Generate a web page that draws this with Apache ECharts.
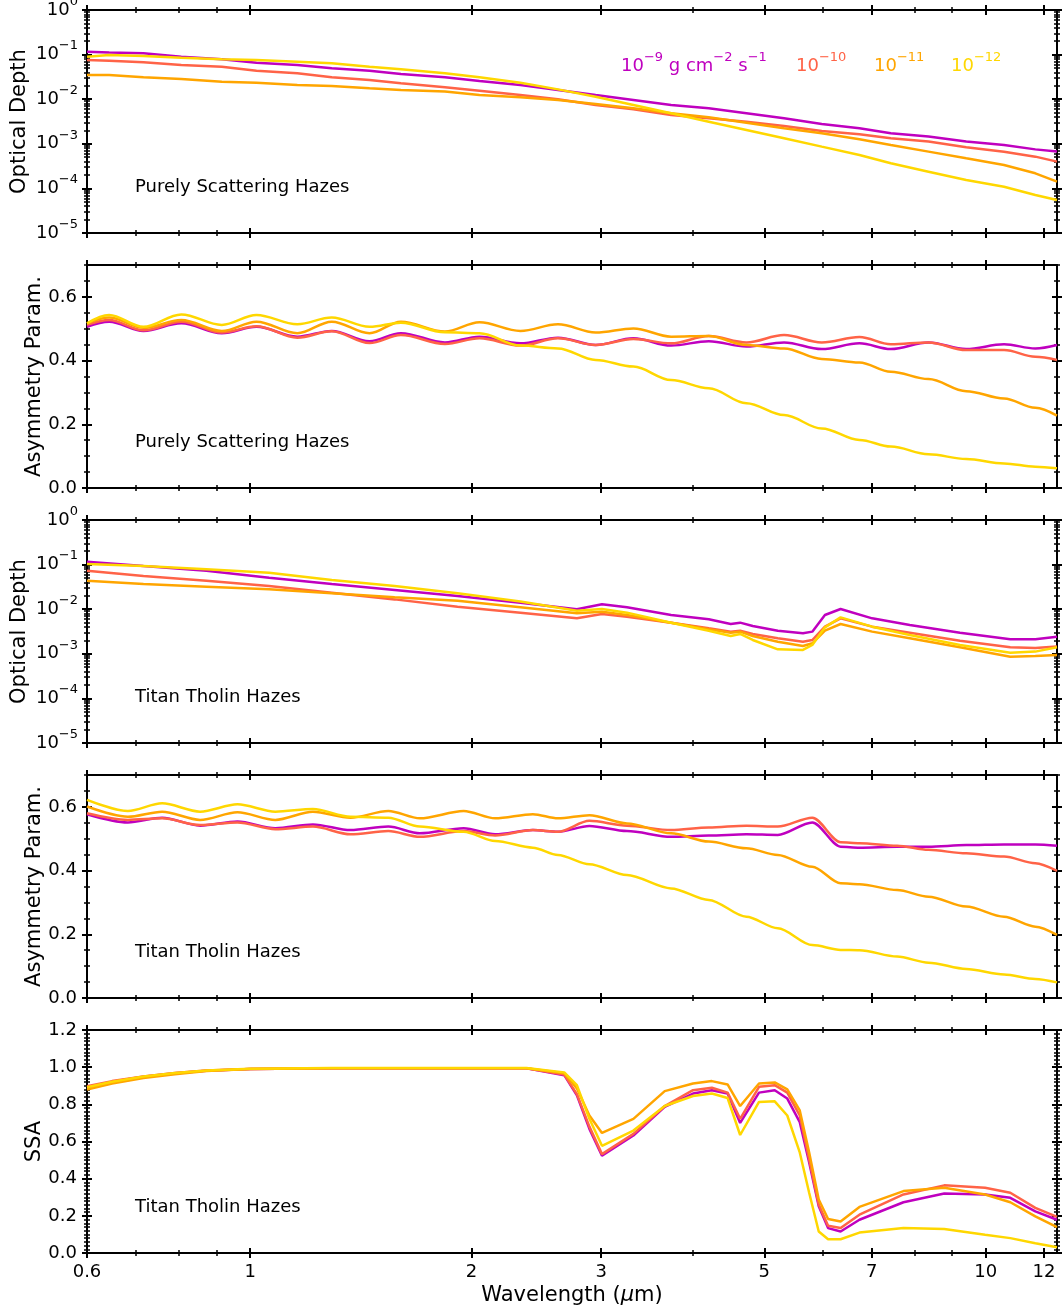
<!DOCTYPE html>
<html><head><meta charset="utf-8">
<script src="https://cdn.jsdelivr.net/npm/echarts@6/dist/echarts.min.js"></script>
<style>html,body{margin:0;padding:0;background:#fff}#chart{width:1063px;height:1310px}</style>
</head><body><div id="chart"></div>
<script>
// ---------- DATA ----------
const seriesLabels = ['10\u207b\u2079 g cm\u207b\u00b2 s\u207b\u00b9', '10\u207b\u00b9\u2070', '10\u207b\u00b9\u00b9', '10\u207b\u00b9\u00b2'];
const xTickLabels = [0.6, 1, 2, 3, 5, 7, 10, 12];
const xMinorTicks = [0.7, 0.8, 0.9, 4, 6, 8, 9];

// Panel 1 & 2 : purely scattering hazes
const wlScatter = [0.600,0.643,0.716,0.806,0.915,1.020,1.159,1.291,1.453,1.603,1.840,2.050,2.330,2.621,2.949,3.319,3.735,4.202,4.728,5.319,5.985,6.735,7.430,8.360,9.408,10.59,11.68,12.5];
const odScat9  = [0.116,0.112,0.107,0.0899,0.0783,0.0659,0.0585,0.0492,0.0437,0.0367,0.0309,0.0256,0.0208,0.0161,0.0124,0.00959,0.00741,0.00624,0.00482,0.00372,0.00278,0.00222,0.00172,0.00145,0.00112,0.00094,0.00075,0.00067];
const odScat10 = [0.0757,0.0731,0.0671,0.0585,0.0536,0.0437,0.0380,0.0309,0.0269,0.0227,0.0185,0.0155,0.0124,0.00993,0.00741,0.00593,0.00443,0.00372,0.00313,0.00251,0.00194,0.00163,0.00133,0.00112,0.000834,0.000667,0.000515,0.000398];
const odScat11 = [0.0349,0.0349,0.0309,0.0284,0.0247,0.0235,0.0208,0.0198,0.0175,0.0161,0.0148,0.0124,0.0110,0.00959,0.00780,0.00624,0.00482,0.00392,0.00298,0.00222,0.00172,0.00126,0.00094,0.000667,0.000472,0.000335,0.000218,0.000142];
const odScat12 = [0.0899,0.0980,0.0930,0.0853,0.0783,0.0757,0.0695,0.0637,0.0536,0.0468,0.0380,0.0309,0.0235,0.0166,0.0114,0.00741,0.00482,0.00313,0.00204,0.00133,0.000863,0.000561,0.000365,0.000237,0.000154,0.000109,0.0000711,0.0000549];
const gScat9  = [0.506,0.522,0.493,0.517,0.486,0.506,0.475,0.493,0.461,0.486,0.457,0.475,0.454,0.472,0.449,0.470,0.447,0.461,0.444,0.457,0.436,0.454,0.436,0.457,0.436,0.451,0.438,0.449];
const gScat10 = [0.512,0.527,0.495,0.522,0.488,0.508,0.472,0.492,0.455,0.480,0.452,0.470,0.447,0.470,0.449,0.468,0.454,0.477,0.457,0.480,0.457,0.474,0.451,0.457,0.433,0.433,0.412,0.402];
const gScat11 = [0.517,0.535,0.503,0.527,0.493,0.522,0.486,0.522,0.486,0.522,0.491,0.520,0.493,0.514,0.488,0.501,0.475,0.477,0.449,0.438,0.405,0.394,0.365,0.342,0.304,0.281,0.252,0.227];
const gScat12 = [0.517,0.543,0.506,0.545,0.512,0.543,0.514,0.535,0.506,0.519,0.489,0.486,0.447,0.438,0.402,0.381,0.339,0.313,0.266,0.229,0.187,0.151,0.130,0.106,0.091,0.077,0.067,0.062];

// Panel 3 : Titan tholin optical depth
const wlTholOD = [0.600,0.716,0.872,1.061,1.291,1.572,1.914,2.330,2.781,3.008,3.253,3.735,4.202,4.501,4.636,4.822,5.216,5.643,5.811,6.045,6.349,7.008,7.884,9.226,10.80,11.68,12.5];
const odThol9  = [0.116,0.093,0.0731,0.0509,0.0367,0.0269,0.0198,0.0140,0.00993,0.0129,0.0110,0.00741,0.00593,0.00466,0.00499,0.00420,0.00330,0.00288,0.00314,0.00741,0.0101,0.00624,0.00442,0.00298,0.00211,0.00211,0.00242];
const odThol10 = [0.0731,0.0555,0.0436,0.0331,0.0235,0.0166,0.0114,0.00837,0.00624,0.00781,0.00680,0.00499,0.00372,0.00314,0.00330,0.00278,0.00222,0.00187,0.00204,0.00406,0.00624,0.00406,0.00298,0.00197,0.00140,0.00135,0.00145];
const odThol11 = [0.0436,0.0367,0.0320,0.0279,0.0227,0.0185,0.0155,0.0110,0.00808,0.00881,0.00741,0.00499,0.00354,0.00298,0.00314,0.00251,0.00187,0.00150,0.00172,0.00330,0.00466,0.00314,0.00222,0.00140,0.000863,0.000893,0.00094];
const odThol12 = [0.1031,0.093,0.0783,0.0659,0.0452,0.0331,0.0227,0.0148,0.00927,0.0101,0.00837,0.00499,0.00330,0.00251,0.00278,0.00204,0.00126,0.00122,0.00158,0.00392,0.00657,0.00406,0.00264,0.00158,0.00106,0.00112,0.00140];

// Panel 4 : Titan tholin asymmetry parameter
const wlTholG = [0.600,0.682,0.759,0.855,0.961,1.082,1.217,1.369,1.541,1.701,1.951,2.153,2.423,2.621,2.892,3.253,3.734,4.202,4.727,5.216,5.811,6.349,6.735,7.578,8.361,9.408,10.59,11.68,12.5];
const gThol9  = [0.577,0.551,0.566,0.541,0.554,0.533,0.545,0.527,0.538,0.517,0.533,0.514,0.527,0.522,0.540,0.524,0.506,0.510,0.514,0.512,0.551,0.475,0.472,0.475,0.475,0.480,0.482,0.482,0.478];
const gThol10 = [0.580,0.559,0.564,0.543,0.551,0.530,0.538,0.514,0.524,0.506,0.524,0.510,0.527,0.522,0.556,0.541,0.527,0.535,0.541,0.538,0.566,0.489,0.486,0.478,0.465,0.454,0.444,0.423,0.399];
const gThol11 = [0.601,0.569,0.585,0.559,0.583,0.559,0.585,0.566,0.587,0.564,0.587,0.564,0.577,0.564,0.574,0.548,0.517,0.491,0.470,0.449,0.412,0.360,0.357,0.339,0.318,0.287,0.255,0.224,0.198];
const gThol12 = [0.622,0.587,0.611,0.585,0.608,0.585,0.593,0.569,0.566,0.538,0.522,0.493,0.472,0.449,0.420,0.386,0.344,0.308,0.255,0.219,0.166,0.151,0.150,0.130,0.111,0.091,0.074,0.060,0.049];

// Panel 5 : single scattering albedo
const wlSSA = [0.600,0.649,0.716,0.790,0.872,1.000,1.291,1.914,2.375,2.673,2.781,2.892,3.008,3.319,3.661,4.000,4.243,4.457,4.636,4.918,5.166,5.373,5.587,5.754,5.929,6.105,6.349,6.735,7.730,8.783,9.980,10.80,11.68,12.5];
const ssa9  = [0.890,0.921,0.948,0.967,0.981,0.990,0.994,0.994,0.994,0.957,0.849,0.668,0.523,0.632,0.786,0.858,0.876,0.858,0.700,0.863,0.876,0.831,0.704,0.487,0.252,0.134,0.116,0.179,0.273,0.320,0.315,0.297,0.224,0.179];
const ssa10 = [0.898,0.925,0.950,0.968,0.982,0.990,0.994,0.994,0.994,0.960,0.855,0.680,0.532,0.641,0.791,0.876,0.889,0.863,0.722,0.894,0.903,0.863,0.740,0.505,0.261,0.147,0.134,0.206,0.315,0.364,0.351,0.324,0.243,0.194];
const ssa11 = [0.880,0.912,0.942,0.962,0.979,0.990,0.994,0.994,0.994,0.967,0.885,0.740,0.646,0.722,0.871,0.912,0.925,0.907,0.791,0.912,0.918,0.881,0.767,0.541,0.288,0.183,0.170,0.248,0.333,0.351,0.315,0.273,0.197,0.139];
const ssa12 = [0.892,0.922,0.950,0.968,0.982,0.991,0.995,0.995,0.995,0.972,0.903,0.722,0.577,0.659,0.791,0.845,0.858,0.834,0.635,0.813,0.816,0.740,0.541,0.324,0.116,0.074,0.074,0.110,0.134,0.129,0.098,0.080,0.052,0.031];

// ---------- STYLE / LAYOUT ----------
const colors = ['#bf00bf', '#ff6347', '#ffa500', '#ffd700'];
const FONT = 'DejaVu Sans';
const AX = '#000';
const GRID_LEFT = 87, GRID_W = 970, GRID_H = 223;
const XMIN = Math.log10(0.6), XMAX = Math.log10(12.5);
const lg = Math.log10;

const logMajor = [-5,-4,-3,-2,-1,0];
const logMinor = [];
for (let d = -5; d < 0; d++) for (let k = 2; k <= 9; k++) logMinor.push(d + lg(k));
const asymMajor = [0, 0.2, 0.4, 0.6];
const asymMinor = [0.05,0.1,0.15,0.25,0.3,0.35,0.45,0.5,0.55,0.65,0.7];
const ssaMajor = [0, 0.2, 0.4, 0.6, 0.8, 1.0, 1.2];
const ssaMinor = [];
for (let i = 1; i < 60; i++) if (i % 10 !== 0) ssaMinor.push(i / 50);

const panels = [
  {top: 10,   wl: wlScatter, ys: [odScat9, odScat10, odScat11, odScat12], log: true,  name: 'Optical Depth',    nameGap: 57, note: 'Purely Scattering Hazes', smooth: false},
  {top: 265,  wl: wlScatter, ys: [gScat9, gScat10, gScat11, gScat12],     log: false, min: 0, max: 0.7, major: asymMajor, minor: asymMinor, name: 'Asymmetry Param.', nameGap: 42, note: 'Purely Scattering Hazes', smooth: 0.35},
  {top: 520,  wl: wlTholOD,  ys: [odThol9, odThol10, odThol11, odThol12], log: true,  name: 'Optical Depth',    nameGap: 57, note: 'Titan Tholin Hazes', smooth: false},
  {top: 775,  wl: wlTholG,   ys: [gThol9, gThol10, gThol11, gThol12],     log: false, min: 0, max: 0.7, major: asymMajor, minor: asymMinor, name: 'Asymmetry Param.', nameGap: 42, note: 'Titan Tholin Hazes', smooth: 0.3},
  {top: 1030, wl: wlSSA,     ys: [ssa9, ssa10, ssa11, ssa12],             log: false, min: 0, max: 1.2, major: ssaMajor, minor: ssaMinor, name: 'SSA', nameGap: 42, note: 'Titan Tholin Hazes', smooth: false}
];

const xMajorL = xTickLabels.map(lg);
const xMinorL = xMinorTicks.map(lg);

const grids = [], xAxes = [], yAxes = [], series = [], graphics = [];
const supRich = {
  b: {fontSize: 18, fontFamily: FONT, color: AX, lineHeight: 30},
  s: {fontSize: 13, fontFamily: FONT, color: AX, lineHeight: 14, verticalAlign: 'top'}
};

panels.forEach((p, g) => {
  const last = g === panels.length - 1;
  grids.push({left: GRID_LEFT, top: p.top, width: GRID_W, height: GRID_H, containLabel: false, outerBoundsMode: 'none'});
  const yMin = p.log ? -5 : p.min, yMax = p.log ? 0 : p.max;
  const yMaj = p.log ? logMajor : p.major, yMin2 = p.log ? logMinor : p.minor;
  const baseX = xAxes.length, baseY = yAxes.length;
  ['bottom', 'top'].forEach(pos => {
    [true, false].forEach(major => {
      [false, true].forEach(inside => {
        const isBase = pos === 'bottom' && major && !inside;
        const withLine = major && !inside;
        const ax = {
          type: 'value', gridIndex: g, position: pos, min: XMIN, max: XMAX,
          axisLine: {show: withLine, onZero: false, lineStyle: {color: AX, width: 2}},
          axisTick: {show: true, customValues: major ? xMajorL : xMinorL, inside: inside,
                     length: major ? 5 : 3, lineStyle: {color: AX, width: major ? 2 : 1.5}},
          axisLabel: {show: false},
          splitLine: {show: false}
        };
        if (isBase && last) {
          ax.axisLabel = {show: true, customValues: xMajorL, margin: 10, color: AX, fontSize: 18, fontFamily: FONT,
            formatter: v => String(Math.round(Math.pow(10, v) * 10) / 10)};
          ax.name = 'Wavelength ({i|\u03bc}m)';
          ax.nameLocation = 'middle';
          ax.nameGap = 32;
          ax.nameMoveOverlap = false;
          ax.nameTextStyle = {fontSize: 21, fontFamily: FONT, color: AX,
            rich: {i: {fontSize: 21, fontFamily: FONT, fontStyle: 'italic', color: AX}}};
        }
        xAxes.push(ax);
      });
    });
  });
  ['left', 'right'].forEach(pos => {
    [true, false].forEach(major => {
      [false, true].forEach(inside => {
        const isBase = pos === 'left' && major && !inside;
        const withLine = major && !inside;
        const ax = {
          type: 'value', gridIndex: g, position: pos, min: yMin, max: yMax,
          axisLine: {show: withLine, onZero: false, lineStyle: {color: AX, width: 2}},
          axisTick: {show: true, customValues: major ? yMaj : yMin2, inside: inside,
                     length: major ? 5 : 3, lineStyle: {color: AX, width: major ? 2 : 1.5}},
          axisLabel: {show: false},
          splitLine: {show: false}
        };
        if (isBase) {
          if (p.log) {
            ax.axisLabel = {show: true, customValues: yMaj, margin: 9, color: AX, fontFamily: FONT, fontSize: 18,
              formatter: v => '{b|10}{s|' + (Math.round(v) === 0 ? '0' : '\u2212' + Math.round(-v)) + '}',
              rich: supRich};
          } else {
            ax.axisLabel = {show: true, customValues: yMaj, margin: 10, color: AX, fontFamily: FONT, fontSize: 18,
              formatter: v => v.toFixed(1)};
          }
          ax.name = p.name;
          ax.nameLocation = 'middle';
          ax.nameGap = p.nameGap;
          ax.nameMoveOverlap = false;
          ax.nameTextStyle = {fontSize: 21, fontFamily: FONT, color: AX};
        }
        yAxes.push(ax);
      });
    });
  });
  p.ys.forEach((vals, k) => {
    series.push({
      type: 'line', name: seriesLabels[k], xAxisIndex: baseX, yAxisIndex: baseY,
      data: p.wl.map((w, i) => [lg(w), p.log ? lg(vals[i]) : vals[i]]),
      showSymbol: false, symbol: 'none', smooth: p.smooth, smoothMonotone: 'x',
      lineStyle: {width: 2.5, color: colors[k]}, itemStyle: {color: colors[k]},
      clip: true, animation: false, z: 2 + k
    });
  });
  graphics.push({type: 'text', x: 135, y: p.top + 177, z: 100,
    style: {text: p.note, fontSize: 18, fontFamily: FONT, fill: AX, align: 'left', verticalAlign: 'middle'}});
});

const legendTexts = [
  {x: 621, t: '{b|10}{s|\u22129}{b| g cm}{s|\u22122}{b| s}{s|\u22121}'},
  {x: 796, t: '{b|10}{s|\u221210}'},
  {x: 874, t: '{b|10}{s|\u221211}'},
  {x: 951, t: '{b|10}{s|\u221212}'}
];
legendTexts.forEach((l, k) => {
  graphics.push({type: 'text', x: l.x, y: 66, z: 100,
    style: {text: l.t, fontFamily: FONT, fontSize: 18, fill: colors[k], align: 'left', verticalAlign: 'middle',
      rich: {
        b: {fontSize: 18, fontFamily: FONT, fill: colors[k], lineHeight: 30},
        s: {fontSize: 13, fontFamily: FONT, fill: colors[k], lineHeight: 14, verticalAlign: 'top'}
      }}});
});

const chart = echarts.init(document.getElementById('chart'), null, {renderer: 'canvas'});
chart.setOption({
  animation: false,
  backgroundColor: '#fff',
  textStyle: {fontFamily: FONT},
  grid: grids, xAxis: xAxes, yAxis: yAxes, series: series, graphic: graphics
});
</script></body></html>
